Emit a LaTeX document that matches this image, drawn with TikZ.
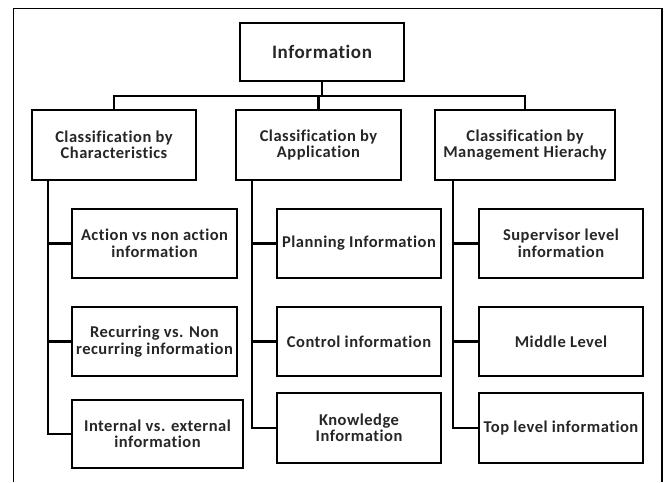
\documentclass[tikz,border=0pt]{standalone}
\usepackage{fontspec}
\setmainfont[Ligatures=CommonOff,LetterSpace=3]{Carlito}
\begin{document}
\begin{tikzpicture}[x=1pt,y=-1pt,
  box/.style={draw, line width=2.1pt, align=center, inner sep=0pt, text=black!85,
    font=\bfseries\fontsize{16.5}{16.5}\selectfont},
  ln/.style={line width=2.1pt},
  frame/.style={line width=1.3pt}]
\useasboundingbox (0,0) rectangle (671,482);
\coordinate (fbl) at (13.5,482);
\coordinate (ftl) at (13.5,8.5);
\coordinate (ftr) at (662,8.5);
\coordinate (fbr) at (662,482);
\draw[frame] (fbl) -- (ftl) -- (ftr) -- (fbr);

\node[box, minimum width=164pt, minimum height=58pt, font=\bfseries\fontsize{19}{19}\selectfont] (info) at (322,52) {Information};

\node[box, minimum width=164pt, minimum height=70pt] (b1) at (114,145) {Classification by\\Characteristics};
\node[box, minimum width=165pt, minimum height=70pt] (b2) at (318.5,145) {Classification by\\Application};
\node[box, minimum width=180pt, minimum height=70pt] (b3) at (525,145) {Classification by\\Management Hierachy};

\node[box, minimum width=165pt, minimum height=69pt] (l11) at (154.5,243.5) {Action vs non action\\information};
\node[box, minimum width=165pt, minimum height=69pt] (l12) at (154.5,341.5) {Recurring vs. Non\\recurring information};
\node[box, minimum width=171pt, minimum height=68pt] (l13) at (157.5,434) {Internal vs. external\\information};

\node[box, minimum width=164pt, minimum height=69pt] (l21) at (359,243.5) {Planning Information};
\node[box, minimum width=164pt, minimum height=69pt] (l22) at (359,341.5) {Control information};
\node[box, minimum width=164pt, minimum height=70pt] (l23) at (359,428) {Knowledge\\Information};

\node[box, minimum width=164pt, minimum height=69pt] (l31) at (561,243.5) {Supervisor level\\information};
\node[box, minimum width=164pt, minimum height=69pt] (l32) at (561,341.5) {Middle Level};
\node[box, minimum width=164pt, minimum height=70pt] (l33) at (561,428) {Top level information};

% top bus
\coordinate (bus) at (0,96);
\draw[ln] (info.south) -- (info.south |- bus);
\draw[ln] (b1.north) -- (b1.north |- bus) -- (b3.north |- bus) -- (b3.north);
\draw[ln] (b2.north) -- (b2.north |- bus);

% spines
\coordinate (s1) at (48,0);
\coordinate (s2) at (252,0);
\coordinate (s3) at (453,0);
\draw[ln] (s1 |- b1.south) |- (l13.west);
\draw[ln] (s1 |- l11.west) -- (l11.west);
\draw[ln] (s1 |- l12.west) -- (l12.west);
\draw[ln] (s2 |- b2.south) |- (l23.west);
\draw[ln] (s2 |- l21.west) -- (l21.west);
\draw[ln] (s2 |- l22.west) -- (l22.west);
\draw[ln] (s3 |- b3.south) |- (l33.west);
\draw[ln] (s3 |- l31.west) -- (l31.west);
\draw[ln] (s3 |- l32.west) -- (l32.west);
\end{tikzpicture}
\end{document}
